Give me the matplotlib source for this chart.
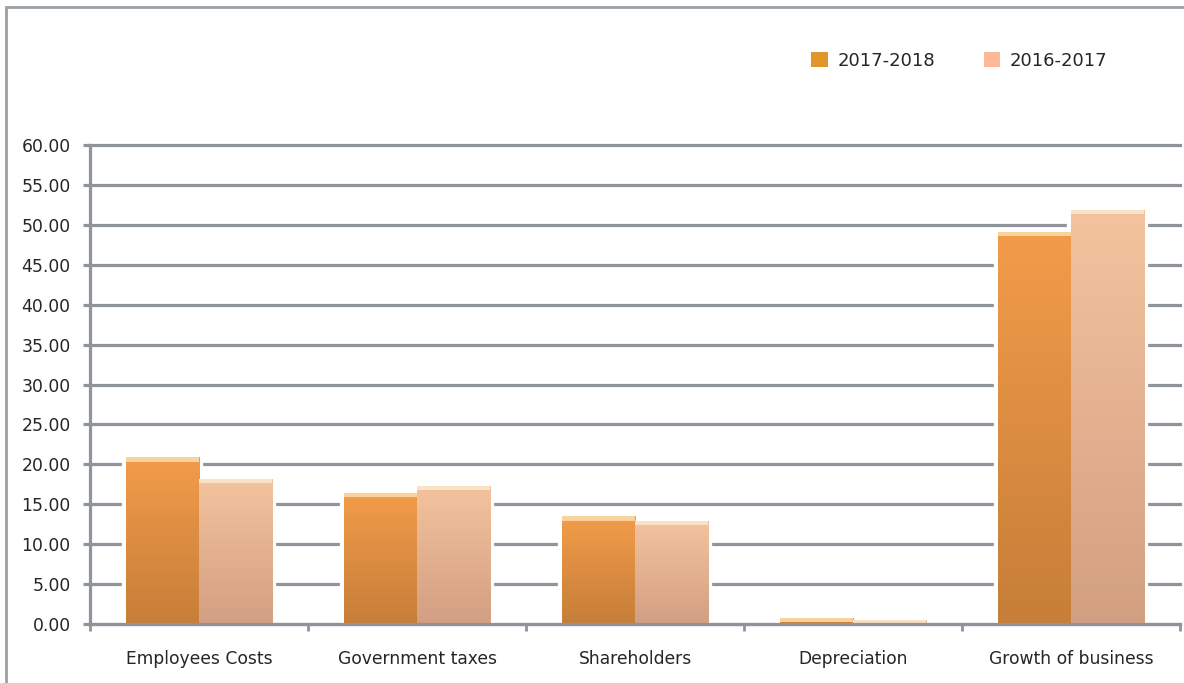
import matplotlib
matplotlib.use("Agg")
import matplotlib.pyplot as plt
import numpy as np
from matplotlib.patches import Patch, Rectangle
from matplotlib.colors import LinearSegmentedColormap

categories = ["Employees Costs", "Government taxes", "Shareholders", "Depreciation", "Growth of business"]
series_names = ["2017-2018", "2016-2017"]
values_2017_2018 = [20.9, 16.4, 13.5, 0.75, 49.1]
values_2016_2017 = [18.2, 17.3, 12.9, 0.5, 51.9]
yticks = [0, 5, 10, 15, 20, 25, 30, 35, 40, 45, 50, 55, 60]

plt.rcParams['font.family'] = ['DejaVu Sans']

W, H = 1184, 683
fig = plt.figure(figsize=(W / 100, H / 100), dpi=100)
ax = fig.add_axes([90 / W, 1 - 624 / H, (1180 - 90) / W, (624 - 145) / H])

grid_c = "#8E949A"
text_c = "#262626"
legend_cols = ["#E0952A", "#FBB997"]
grads = [("#F29C4A", "#C67E38"), ("#F4C39E", "#D29F82")]
highlights = ["#FCE0B4", "#FCEBD2"]

x = np.arange(len(categories)) + 0.5
w = 0.335
offs = [-0.168, 0.168]
all_vals = [values_2017_2018, values_2016_2017]

for si, vals in enumerate(all_vals):
    bars = ax.bar(x + offs[si], vals, width=w, color=grads[si][0], edgecolor="white",
                  linewidth=6, zorder=3)
    cmap = LinearSegmentedColormap.from_list("g%d" % si, [grads[si][1], grads[si][0]])
    grad = np.linspace(0, 1, 256).reshape(-1, 1)
    for b in bars:
        x0, y0 = b.get_x(), b.get_y()
        bw, bh = b.get_width(), b.get_height()
        im = ax.imshow(grad, cmap=cmap, origin="lower", aspect="auto",
                       extent=[x0, x0 + bw, y0, y0 + bh], zorder=4, interpolation="bilinear")
        im.set_clip_path(b)
        hh = min(bh, 0.55)
        hl = Rectangle((x0, y0 + bh - hh), bw, hh, facecolor=highlights[si],
                       alpha=0.8, edgecolor="none", zorder=5)
        ax.add_patch(hl)

ax.set_xlim(0, 5)
ax.set_ylim(0, 60)
ax.set_yticks(yticks)
ax.set_yticklabels(["%.2f" % v for v in yticks])
ax.yaxis.grid(True, color=grid_c, linewidth=2.3, zorder=1)
ax.set_axisbelow(True)
for gl in ax.get_ygridlines():
    gl.set_clip_on(False)

ax.set_xticks(np.arange(0, 6))
ax.set_xticklabels([])
ax.set_xticks(x, minor=True)
ax.set_xticklabels(categories, minor=True)
ax.tick_params(axis="x", which="major", length=5, width=2.0, color=grid_c, direction="out")
ax.tick_params(axis="x", which="minor", length=0, pad=19, labelsize=12.3, labelcolor=text_c)
ax.tick_params(axis="y", length=5, width=2.3, color=grid_c, pad=9, labelsize=12.4, labelcolor=text_c)

for s in ["top", "right"]:
    ax.spines[s].set_visible(False)
for s in ["left", "bottom"]:
    ax.spines[s].set_color(grid_c)
    ax.spines[s].set_linewidth(2.3)
    ax.spines[s].set_zorder(6)

# figure border
fig.add_artist(Rectangle((6 / W, -0.1), 1.2, 1.1 - 7 / H, transform=fig.transFigure,
                         fill=False, edgecolor="#9AA0A6", linewidth=2, zorder=0))

handles = [Patch(facecolor=legend_cols[i], edgecolor="none", label=series_names[i]) for i in range(2)]
fig.legend(handles=handles, loc="center left", bbox_to_anchor=(795 / W, 1 - 61 / H), ncol=2,
           frameon=False, fontsize=13, handlelength=0.9, handleheight=0.9, handletextpad=0.55,
           columnspacing=2.7, labelcolor=text_c)

fig.savefig("out.png", dpi=100)
